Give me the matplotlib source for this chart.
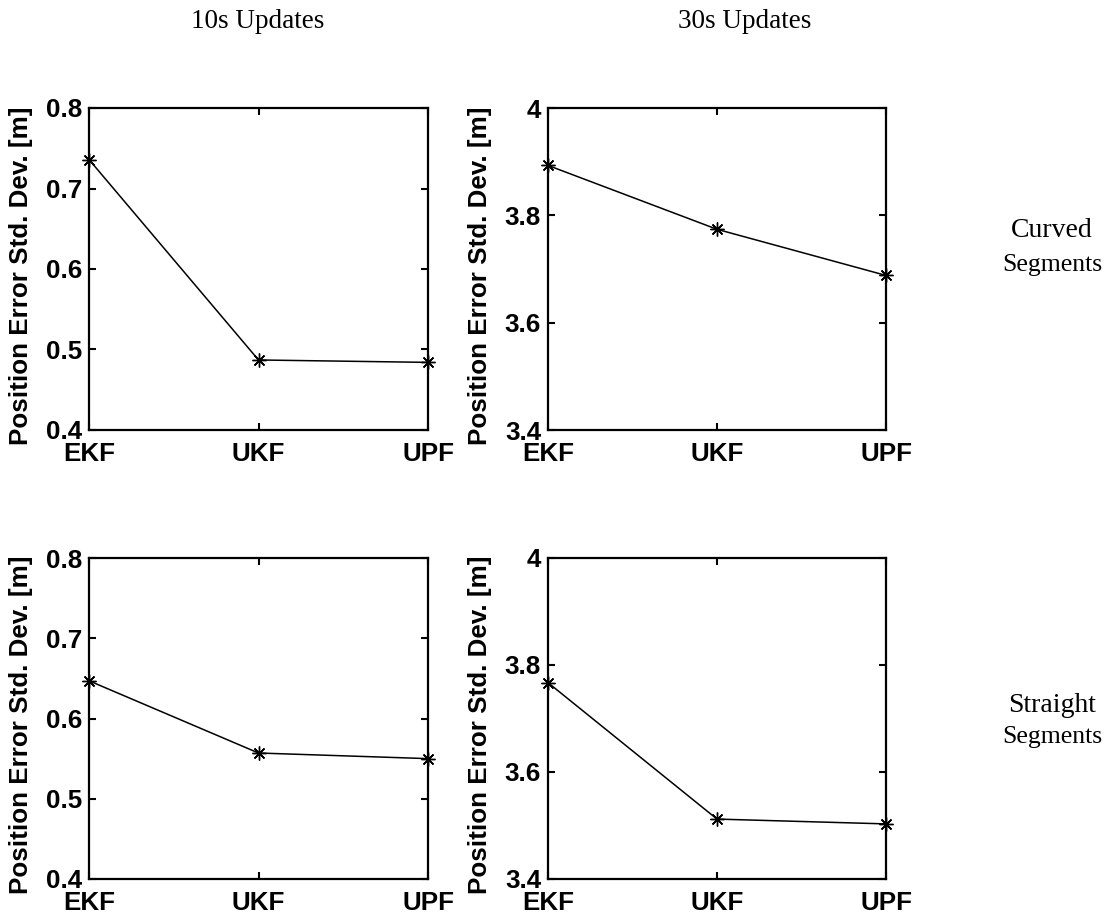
import numpy as np
import matplotlib.pyplot as plt

# filter names on the x axis
filters = ['EKF', 'UKF', 'UPF']

# position error std. dev. [m] per filter
curved_10s = [0.736, 0.487, 0.484]
curved_30s = [3.893, 3.774, 3.688]
straight_10s = [0.647, 0.557, 0.550]
straight_30s = [3.767, 3.512, 3.503]

yticks_10s = [0.4, 0.5, 0.6, 0.7, 0.8]
yticks_30s = [3.4, 3.6, 3.8, 4.0]
yticklabels_30s = ['3.4', '3.6', '3.8', '4']

col_titles = ['10s Updates', '30s Updates']
row_titles = [('Curved', 'Segments'), ('Straight', 'Segments')]

plt.rcParams['font.family'] = 'Liberation Sans'
plt.rcParams['font.weight'] = 'bold'

W, H = 1116, 918
fig = plt.figure(figsize=(W / 100, H / 100), dpi=100)


def px_axes(left, top, right, bottom):
    # axes box given in pixel edges
    return fig.add_axes([left / W, 1 - bottom / H, (right - left) / W, (bottom - top) / H])


def draw_panel(ax, values, yticks, yticklabels=None):
    x = np.arange(len(filters))
    ax.plot(x, values, color='black', linewidth=1.1,
            marker=(8, 2, 0), markersize=10, markeredgewidth=1.0,
            clip_on=False)
    ax.set_xlim(0, len(filters) - 1)
    ax.set_ylim(yticks[0], yticks[-1])
    ax.set_xticks(x)
    ax.set_xticklabels(filters)
    ax.set_yticks(yticks)
    if yticklabels is not None:
        ax.set_yticklabels(yticklabels)
    ax.tick_params(direction='in', length=5, width=1.5, top=True, right=True,
                   labelsize=18.7)
    ax.tick_params(axis='x', pad=9)
    ax.tick_params(axis='y', pad=5)
    for s in ax.spines.values():
        s.set_linewidth(1.6)
    ax.set_ylabel('Position Error Std. Dev. [m]', fontsize=18.7, fontweight='bold')
    ax.yaxis.set_label_coords(-0.165, 0.48)


ax_tl = px_axes(89, 108, 428, 430)
ax_tr = px_axes(548, 108, 886, 430)
ax_bl = px_axes(89, 558, 428, 879)
ax_br = px_axes(548, 558, 886, 879)

draw_panel(ax_tl, curved_10s, yticks_10s)
draw_panel(ax_tr, curved_30s, yticks_30s, yticklabels_30s)
draw_panel(ax_bl, straight_10s, yticks_10s)
draw_panel(ax_br, straight_30s, yticks_30s, yticklabels_30s)

# column headings
for xc, t in zip([258, 745], col_titles):
    fig.text(xc / W, 1 - 28 / H, t, family='Liberation Serif', fontweight='normal',
             fontsize=19.5, ha='center', va='baseline')

# row headings
for (top_word, bot_word), (y1, y2) in zip(row_titles, [(237, 271), (712, 743)]):
    fig.text(1052 / W, 1 - y1 / H, top_word, family='Liberation Serif',
             fontweight='normal', fontsize=20, ha='center', va='baseline')
    fig.text(1052 / W, 1 - y2 / H, bot_word, family='Liberation Serif',
             fontweight='normal', fontsize=18.5, ha='center', va='baseline')

fig.savefig('out.png', dpi=100)
